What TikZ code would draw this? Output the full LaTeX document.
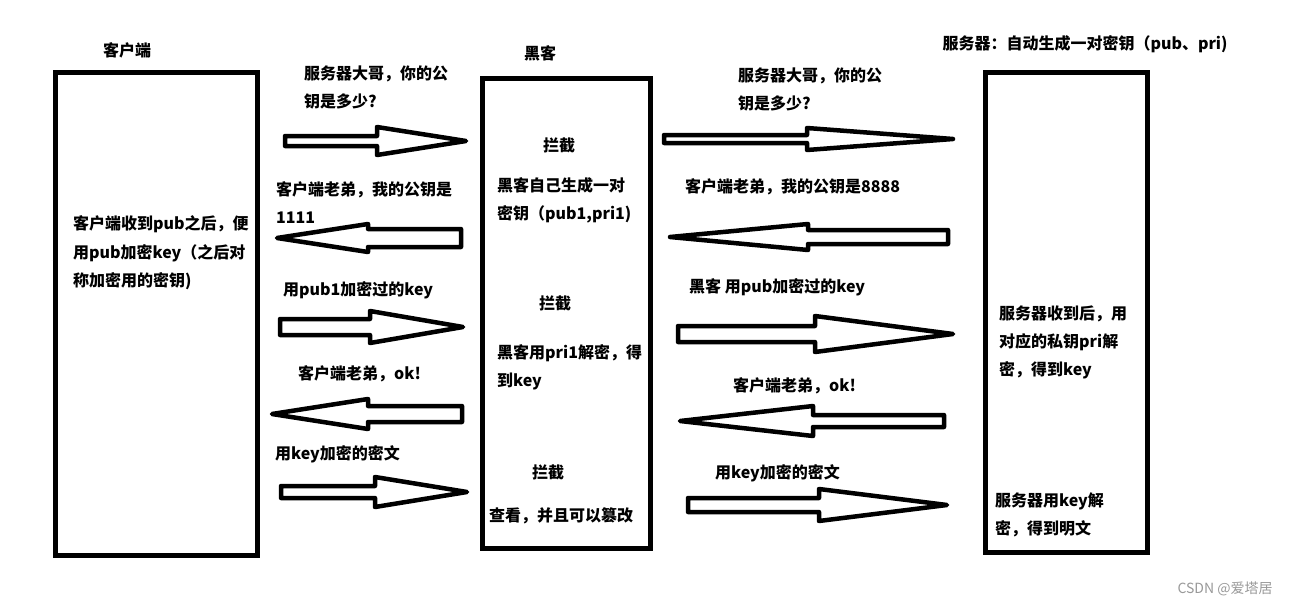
\documentclass[tikz,border=0pt]{standalone}
\usepackage{fontspec}
\setmainfont{Noto Sans CJK SC}
\begin{document}
\begin{tikzpicture}[x=1pt,y=-1pt,
  box/.style={draw,line width=5pt,line join=miter},
  barrow/.style={draw,line width=4.5pt,line join=round},
  txt/.style={anchor=base west,inner sep=0pt,font=\fontsize{16}{20}\selectfont\bfseries},
  ctxt/.style={anchor=base,inner sep=0pt,font=\fontsize{16}{20}\selectfont\bfseries},
  wm/.style={anchor=base,inner sep=0pt,text=black!40,font=\fontsize{14}{16}\selectfont}]
\useasboundingbox (0,0) rectangle (1289,605);
\fill[white] (0,0) rectangle (1289,605);
% boxes
\draw[box] (55,72) rectangle (257,555);
\draw[box] (482,78) rectangle (650,548);
\draw[box] (985,72) rectangle (1147,552);
% block arrow: tail, base, tip, cy, shaft half, head half
\newcommand{\blockarrow}[6]{%
  \draw[barrow] (#1,{#4-#5}) -- (#2,{#4-#5}) -- (#2,{#4-#6}) -- (#3,#4)
    -- (#2,{#4+#6}) -- (#2,{#4+#5}) -- (#1,{#4+#5}) -- cycle;}
\blockarrow{285}{377}{466}{141}{5}{14}
\blockarrow{461}{368}{277}{238}{9}{14}
\blockarrow{280}{370}{463}{327}{8}{16}
\blockarrow{462}{368}{272}{414}{8}{15}
\blockarrow{281}{375}{467}{492}{6}{15}
\blockarrow{664}{807}{953}{139}{4}{11}
\blockarrow{948}{808}{670}{237}{7}{13}
\blockarrow{678}{815}{953}{334}{8}{18}
\blockarrow{944}{813}{680}{421}{6}{15}
\blockarrow{688}{819}{947}{505}{7}{16}
% titles
\node[ctxt] (tc) at (127,56) {客户端};
\node[ctxt] (th) at (540,59) {黑客};
\node[ctxt] (ts) at (1085,49) {服务器：自动生成一对密钥（pub、pri)};
% client box text
\node[txt] (c1) at (73,229) {客户端收到pub之后，便};
\node[txt] (c2) at (73,258) {用pub加密key（之后对};
\node[txt] (c3) at (73,286) {称加密用的密钥)};
% left messages
\node[txt] (l1a) at (304,79) {服务器大哥，你的公};
\node[txt] (l1b) at (304,107) {钥是多少?};
\node[txt] (l2a) at (276,195) {客户端老弟，我的公钥是};
\node[txt] (l2b) at (276,223) {1111};
\node[txt] (l3) at (283,295) {用pub1加密过的key};
\node[txt] (l4) at (298,379) {客户端老弟，ok!};
\node[txt] (l5) at (275,459) {用key加密的密文};
% hacker box text
\node[ctxt] (h1) at (559,151) {拦截};
\node[txt] (h2a) at (497,191) {黑客自己生成一对};
\node[txt] (h2b) at (497,219) {密钥（pub1,pri1)};
\node[ctxt] (h3) at (555,309) {拦截};
\node[txt] (h4a) at (497,358) {黑客用pri1解密，得};
\node[txt] (h4b) at (497,386) {到key};
\node[ctxt] (h5) at (548,478) {拦截};
\node[txt] (h6) at (489,521) {查看，并且可以篡改};
% right messages
\node[txt] (r1a) at (738,81) {服务器大哥，你的公};
\node[txt] (r1b) at (738,109) {钥是多少?};
\node[txt] (r2) at (685,192) {客户端老弟，我的公钥是8888};
\node[txt] (r3) at (689,292) {黑客 用pub加密过的key};
\node[txt] (r4) at (733,391) {客户端老弟，ok!};
\node[txt] (r5) at (715,478) {用key加密的密文};
% server box text
\node[txt] (s1a) at (999,319) {服务器收到后，用};
\node[txt] (s1b) at (999,347) {对应的私钥pri解};
\node[txt] (s1c) at (999,375) {密，得到key};
\node[txt] (s2a) at (995,506) {服务器用key解};
\node[txt] (s2b) at (995,534) {密，得到明文};
% watermark
\node[wm] (w) at (1225,593) {CSDN @爱塔居};
\end{tikzpicture}
\end{document}
